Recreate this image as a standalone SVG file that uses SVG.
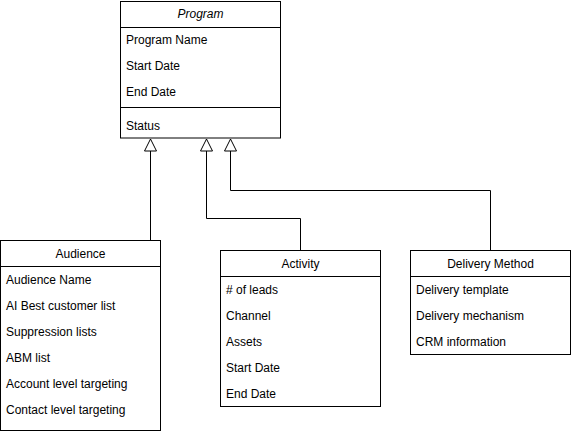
<svg xmlns="http://www.w3.org/2000/svg" width="571" height="432" viewBox="0 0 571 432">
<style>
.box{fill:#fff;stroke:#000;stroke-width:1}
.ln{stroke:#000;stroke-width:1;fill:none}
text{font-family:"Liberation Sans",Arial,sans-serif;font-size:12px;fill:#000;dominant-baseline:central}
.t{text-anchor:middle}
</style>
<defs>
<marker id="inh" markerWidth="14" markerHeight="14" refX="13" refY="7" orient="auto" markerUnits="userSpaceOnUse" viewBox="0 0 14 14">
<path d="M13,7 L1,1 L1,13 Z" fill="#fff" stroke="#000" stroke-width="1"/>
</marker>
</defs>
<rect width="571" height="432" fill="#fff"/>
<g id="program">
<rect class="box" x="120.5" y="1.5" width="160" height="136.5"/>
<line class="ln" x1="120.5" y1="27.5" x2="280.5" y2="27.5"/>
<line class="ln" x1="120.5" y1="107.5" x2="280.5" y2="107.5"/>
<text class="t" x="200.5" y="14" font-style="italic">Program</text>
<text x="126" y="40">Program Name</text>
<text x="126" y="66">Start Date</text>
<text x="126" y="92">End Date</text>
<text x="126" y="126">Status</text>
</g>
<g id="audience">
<rect class="box" x="0.5" y="240.5" width="160" height="190"/>
<line class="ln" x1="0.5" y1="266.5" x2="160.5" y2="266.5"/>
<text class="t" x="80.5" y="254">Audience</text>
<text x="6" y="280">Audience Name</text>
<text x="6" y="306">AI Best customer list</text>
<text x="6" y="332">Suppression lists</text>
<text x="6" y="358">ABM list</text>
<text x="6" y="384">Account level targeting</text>
<text x="6" y="410">Contact level targeting</text>
</g>
<g id="activity">
<rect class="box" x="220.5" y="250.5" width="160" height="156"/>
<line class="ln" x1="220.5" y1="276.5" x2="380.5" y2="276.5"/>
<text class="t" x="300.5" y="264">Activity</text>
<text x="226" y="290"># of leads</text>
<text x="226" y="316">Channel</text>
<text x="226" y="342">Assets</text>
<text x="226" y="368">Start Date</text>
<text x="226" y="394">End Date</text>
</g>
<g id="delivery">
<rect class="box" x="410.5" y="250.5" width="160" height="104"/>
<line class="ln" x1="410.5" y1="276.5" x2="570.5" y2="276.5"/>
<text class="t" x="490.5" y="264">Delivery Method</text>
<text x="416" y="290">Delivery template</text>
<text x="416" y="316">Delivery mechanism</text>
<text x="416" y="342">CRM information</text>
</g>
<g id="connectors">
<path class="ln" d="M150.5,240.5 L150.5,139" marker-end="url(#inh)"/>
<path class="ln" d="M300.5,250.5 L300.5,218.5 L206.5,218.5 L206.5,139" marker-end="url(#inh)"/>
<path class="ln" d="M490.5,250.5 L490.5,190.5 L230.5,190.5 L230.5,139" marker-end="url(#inh)"/>
</g>
</svg>
